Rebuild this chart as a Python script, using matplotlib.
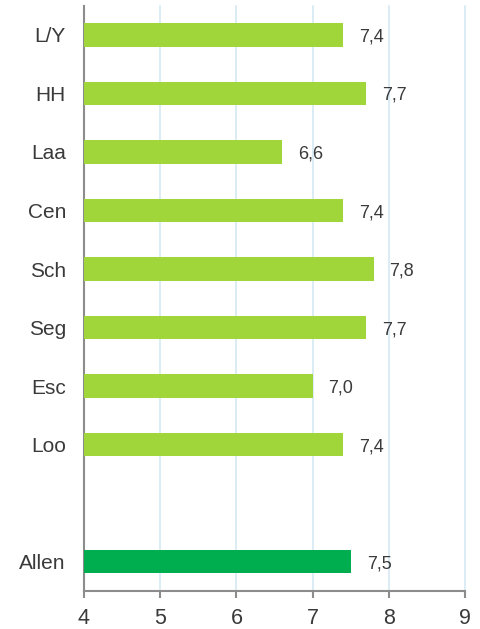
import matplotlib
matplotlib.use("Agg")
import matplotlib.pyplot as plt
import numpy as np

plt.rcParams['font.family'] = ['Liberation Sans', 'DejaVu Sans']

# data (top to bottom); empty slot between Loo and Allen
categories = ["L/Y", "HH", "Laa", "Cen", "Sch", "Seg", "Esc", "Loo", "", "Allen"]
values = [7.4, 7.7, 6.6, 7.4, 7.8, 7.7, 7.0, 7.4, np.nan, 7.5]
value_labels = ["7,4", "7,7", "6,6", "7,4", "7,8", "7,7", "7,0", "7,4", "", "7,5"]
xticks = [4, 5, 6, 7, 8, 9]

C_LIGHT = "#A1D63B"; C_DARK = "#00AE50"
colors = [C_DARK if c == "Allen" else C_LIGHT for c in categories]

fig = plt.figure(figsize=(4.81, 6.29), dpi=100)
ax = fig.add_axes([0.1746, 0.0604, 0.7921, 0.9306])

y = np.arange(len(categories))
vals = np.nan_to_num(np.array(values), nan=0.0)
ax.barh(y, vals, height=0.4, color=colors, zorder=3)
for yi, v, lab in zip(y, values, value_labels):
    if lab:
        ax.text(v + 0.21, yi, lab, va="center_baseline", ha="left", fontsize=13,
                color="#3A3A3A", zorder=4)

ax.set_xlim(4, 9)
ax.set_ylim(len(categories) - 0.5, -0.5)
ax.set_yticks(y)
ax.set_yticklabels(categories, fontsize=15, color="#3A3A3A")
ax.set_xticks(xticks)
ax.set_xticklabels([str(t) for t in xticks], fontsize=15.5, color="#3A3A3A")
ax.tick_params(axis="y", length=0, pad=13)
ax.tick_params(axis="x", length=5, width=1.5, color="#8C8C8C", direction="out", pad=7)
ax.grid(axis="x", color="#D6E9F3", lw=1.2, zorder=0)
for gl in ax.get_xgridlines():
    gl.set_clip_on(False)
for s in ["top", "right"]:
    ax.spines[s].set_visible(False)
for s in ["left", "bottom"]:
    ax.spines[s].set_color("#8C8C8C")
    ax.spines[s].set_linewidth(1.5)

fig.savefig("out.png", dpi=100)
